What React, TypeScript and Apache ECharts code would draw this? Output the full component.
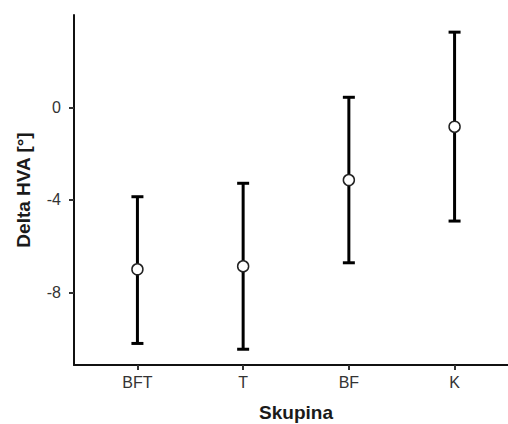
import React, { useEffect, useRef } from "react";
import * as echarts from "echarts";

const categories = ["BFT", "T", "BF", "K"];
const means = [-6.99, -6.86, -3.14, -0.84];
const lowers = [-10.19, -10.44, -6.71, -4.91];
const uppers = [-3.86, -3.28, 0.43, 3.24];
const yTicks = [-8, -4, 0];
const xTicks = [0, 1, 2, 3];

export default function App() {
  const ref = useRef<HTMLDivElement>(null);
  useEffect(() => {
    const chart = echarts.init(ref.current!, null, { renderer: "svg" });
    const font = "'Liberation Sans', Arial, sans-serif";
    chart.setOption({
      animation: false,
      grid: { left: 74, right: -10, top: 15, bottom: 59, outerBoundsMode: "none", containLabel: false },
      xAxis: {
        type: "value",
        min: -0.6,
        max: 3.6,
        name: "Skupina",
        nameLocation: "middle",
        nameGap: 38,
        nameTextStyle: { fontFamily: font, fontSize: 19, fontWeight: "bold", color: "#1a1a1a" },
        axisLine: { onZero: false, lineStyle: { color: "#111", width: 2 } },
        axisTick: { customValues: xTicks, length: 5, lineStyle: { color: "#333", width: 2 } },
        axisLabel: {
          customValues: xTicks,
          formatter: (v: number) => categories[Math.round(v)] ?? "",
          fontFamily: font,
          fontSize: 16,
          color: "#333",
          margin: 9,
        },
        splitLine: { show: false },
      },
      yAxis: {
        type: "value",
        min: -11.12,
        max: 3.98,
        name: "Delta HVA [°]",
        nameLocation: "middle",
        nameGap: 41,
        nameTextStyle: { fontFamily: font, fontSize: 19, fontWeight: "bold", color: "#1a1a1a" },
        axisLine: { onZero: false, lineStyle: { color: "#111", width: 2 } },
        axisTick: { customValues: yTicks, length: 5, lineStyle: { color: "#333", width: 2 } },
        axisLabel: {
          customValues: yTicks,
          fontFamily: font,
          fontSize: 16,
          color: "#333",
          margin: 13,
        },
        splitLine: { show: false },
      },
      series: [
        {
          type: "custom",
          data: categories.map((_, i) => [i, lowers[i], uppers[i]]),
          renderItem: (params: any, api: any) => {
            const x = api.value(0);
            const lo = api.coord([x, api.value(1)]);
            const hi = api.coord([x, api.value(2)]);
            const hw = 6;
            const style = { stroke: "#000", lineWidth: 3, fill: "none" };
            return {
              type: "group",
              children: [
                { type: "line", shape: { x1: lo[0], y1: lo[1], x2: hi[0], y2: hi[1] }, style },
                { type: "line", shape: { x1: lo[0] - hw, y1: lo[1], x2: lo[0] + hw, y2: lo[1] }, style },
                { type: "line", shape: { x1: hi[0] - hw, y1: hi[1], x2: hi[0] + hw, y2: hi[1] }, style },
              ],
            };
          },
          z: 2,
        },
        {
          type: "scatter",
          data: categories.map((_, i) => [i, means[i]]),
          symbol: "circle",
          symbolSize: 11,
          itemStyle: { color: "#fff", borderColor: "#222", borderWidth: 1.5, opacity: 1 },
          z: 3,
        },
      ],
    });
    return () => chart.dispose();
  }, []);
  return <div ref={ref} style={{ width: 508, height: 424, position: "absolute", left: 0, top: 0 }} />;
}
